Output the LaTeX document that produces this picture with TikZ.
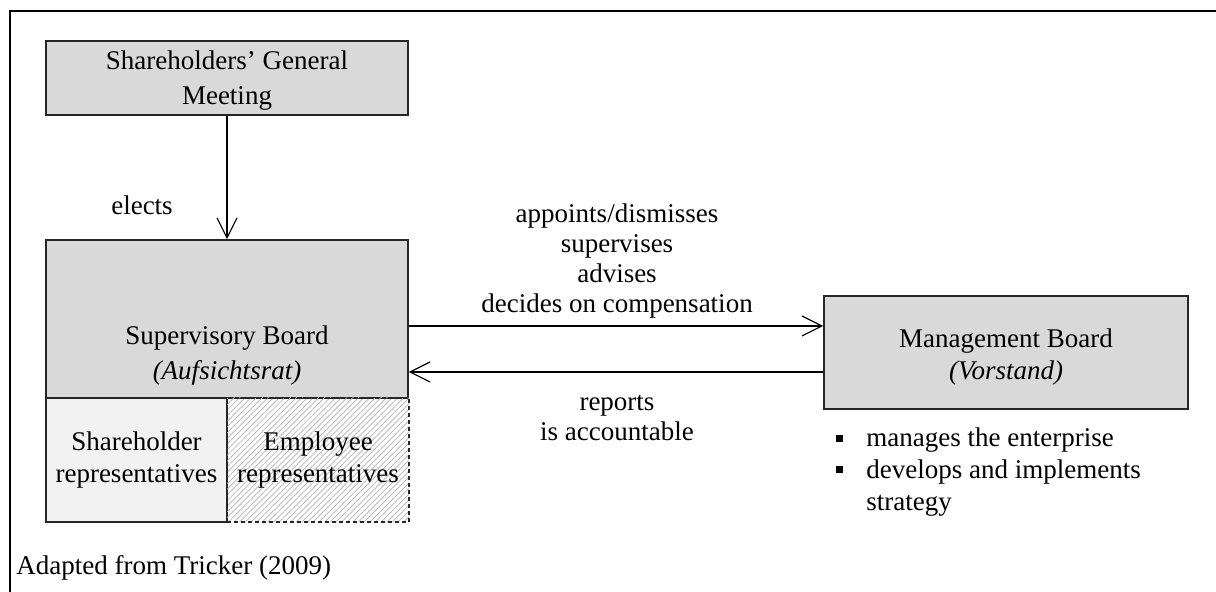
\documentclass[tikz,border=0pt]{standalone}
\usepackage{fontspec}
\setmainfont{Liberation Serif}
\usetikzlibrary{arrows.meta,patterns.meta}
\definecolor{boxgray}{HTML}{D9D9D9}
\definecolor{lightbox}{HTML}{F2F2F2}
\begin{document}
\begin{tikzpicture}[x=0.5pt,y=-0.5pt,
  txt/.style={inner sep=0pt, align=center, font=\fontsize{13.5}{16}\selectfont},
  box/.style={txt, draw=black!85, line width=0.75pt, fill=boxgray},
  arr/.style={-{Straight Barb[length=10pt,width=10pt]}, line width=0.6pt},
  bul/.style={fill=black}]
\useasboundingbox (0,0) rectangle (1216,592);
\draw[line width=1pt] (10,592) -- (10,11) -- (1216,11);

\node[box, minimum width=181pt, minimum height=37pt] (sgm) at (227,78) {};
\node[txt, font=\fontsize{13.5}{17.5}\selectfont] (sgmt) at (227,81) {Shareholders’ General\\Meeting};
\node[box, minimum width=181pt, minimum height=79pt] (sup) at (227,319) {};
\node[txt, font=\fontsize{13.5}{17.5}\selectfont] (supt) at (227,356) {Supervisory Board\\\textit{(Aufsichtsrat)}};
\node[txt, draw=black!85, line width=0.75pt, fill=lightbox, minimum width=90.5pt, minimum height=62pt] (shrep) at (136.5,460) {Shareholder\\representatives};
\node[txt, draw=black!85, line width=0.75pt, dash pattern=on 2pt off 1.5pt,
  pattern={Lines[angle=45,distance=2pt,line width=0.35pt]}, pattern color=black!30,
  minimum width=91pt, minimum height=62pt] (emprep) at (318,460) {Employee\\representatives};
\node[box, minimum width=182pt, minimum height=56.5pt] (mgmt) at (1006,352.5) {};
\node[txt] (mgmtt) at (1006,357) {Management Board\\\textit{(Vorstand)}};

\coordinate (r1) at (0,326);
\coordinate (r2) at (0,372);
\draw[arr] (sgm) -- (sup);
\draw[arr] (sup.east |- r1) -- (mgmt.west |- r1);
\draw[arr] (mgmt.west |- r2) -- (sup.east |- r2);

\node[txt] (elects) at (142,205) {elects};
\node[txt, font=\fontsize{13.5}{15}\selectfont] (l1) at (617,261) {appoints/dismisses\\supervises\\advises\\decides on compensation};
\node[txt, font=\fontsize{13.5}{15}\selectfont] (l2) at (617,418) {reports\\is accountable};

\fill[bul] (835.5,435.5) rectangle (842.5,442.5);
\fill[bul] (835.5,466.5) rectangle (842.5,473.5);
\node[txt, anchor=base west] (b1) at (866,447) {manages the enterprise};
\node[txt, anchor=base west] (b2) at (866,479) {develops and implements};
\node[txt, anchor=base west] (b3) at (866,511) {strategy};

\node[txt, anchor=base west] (src) at (16,575) {Adapted from Tricker (2009)};
\end{tikzpicture}
\end{document}
